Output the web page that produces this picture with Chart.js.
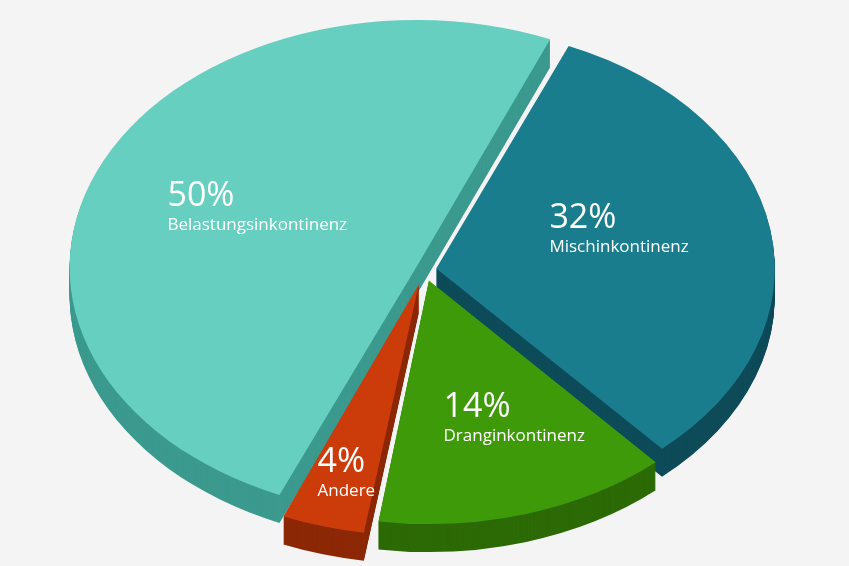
<!DOCTYPE html>
<html><head><meta charset="utf-8">
<script src="https://cdn.jsdelivr.net/npm/chart.js@4/dist/chart.umd.min.js"></script>
<style>html,body{margin:0;background:#f4f4f4}#w{width:849px;height:566px}</style>
</head><body><div id="w"><canvas id="c"></canvas></div>
<script>
const categories = ["Mischinkontinenz","Dranginkontinenz","Andere","Belastungsinkontinenz"];
const values = [32,14,4,50];
const percentLabels = ["32%","14%","4%","50%"];
const topColors = ["#1a7d8e","#3f9a0a","#cc3b0a","#66cfc0"];
const sideColors = ["#0d4b59","#2c6a06","#8c2806","#3c9a8e"];
const offsets = [34,44,58,26];
const SX = 1.40, DEPTH = 28;
let cx = 0;
const fake3d = {
  id:'fake3d',
  beforeDatasetsDraw(chart){
    const ctx = chart.ctx, meta = chart.getDatasetMeta(0);
    cx = (chart.chartArea.left+chart.chartArea.right)/2;
    ctx.save();
    ctx.translate(cx,0); ctx.scale(SX,1); ctx.translate(-cx,0);
    for(let d=DEPTH; d>0; d--){
      meta.data.forEach((el,i)=>{
        const o = el.options.backgroundColor;
        el.options.backgroundColor = sideColors[i];
        ctx.save(); ctx.translate(0,d); el.draw(ctx); ctx.restore();
        el.options.backgroundColor = o;
      });
    }
  },
  afterDatasetsDraw(chart){ chart.ctx.restore(); },
  afterDraw(chart){
    const ctx = chart.ctx, meta = chart.getDatasetMeta(0);
    const adj = [[-65,-20],[-38,10],[-50,58],[-85,-12]];
    meta.data.forEach((el,i)=>{
      const p = el.tooltipPosition();
      const x = cx+(p.x-cx)*SX + adj[i][0], y = p.y + adj[i][1];
      ctx.fillStyle='#fff'; ctx.textAlign='left'; ctx.textBaseline='alphabetic';
      ctx.font = '34px "Open Sans"'; ctx.fillText(percentLabels[i], x, y);
      ctx.font = '17px "Open Sans"'; ctx.fillText(categories[i], x, y+24);
    });
  }
};
new Chart(document.getElementById('c'),{
  type:'pie',
  data:{labels:categories,datasets:[{data:values,backgroundColor:topColors,borderWidth:0,offset:offsets}]},
  options:{responsive:true,maintainAspectRatio:false,animation:false,rotation:23,
    layout:{padding:{top:-6,bottom:26,left:0,right:0}},
    plugins:{legend:{display:false},tooltip:{enabled:false}}},
  plugins:[fake3d]
});
</script></body></html>
